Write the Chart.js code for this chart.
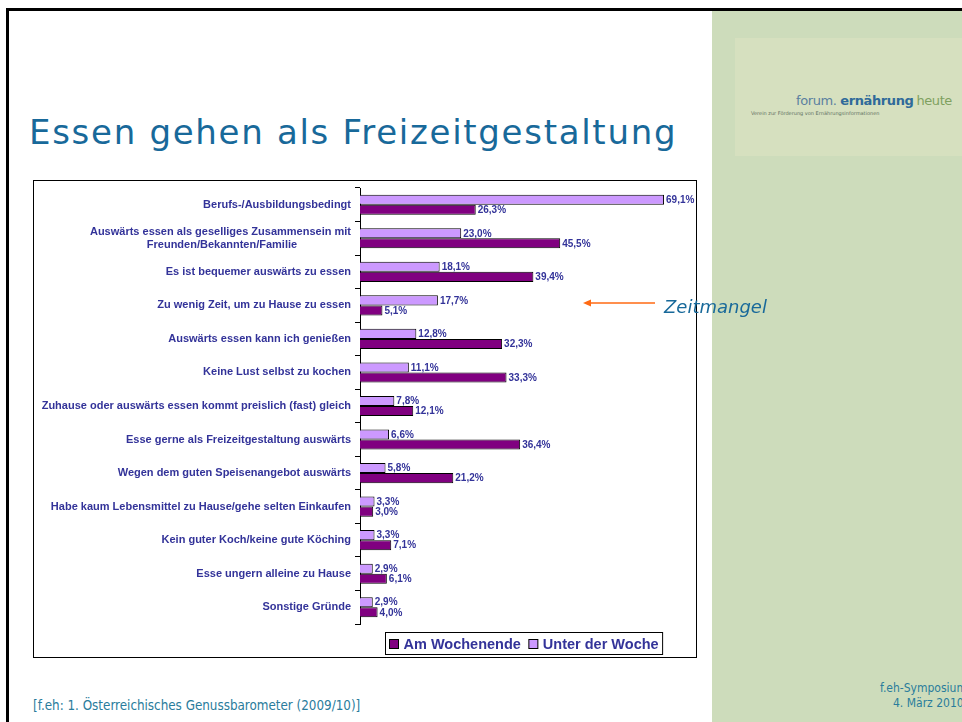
<!DOCTYPE html>
<html>

<head>
  <meta charset="utf-8">
  <title>Essen gehen als Freizeitgestaltung</title>
  <script src="https://cdn.jsdelivr.net/npm/chart.js@4.4.1/dist/chart.umd.min.js"></script>

  <style media="screen">
    body { margin: 0; width: 962px; height: 722px; position: relative; overflow: hidden; background: #fff; font-family: "DejaVu Sans", Verdana, sans-serif; }
    .topline { position: absolute; left: 6px; top: 8px; width: 956px; height: 3px; background: #000; }
    .leftline { position: absolute; left: 6px; top: 8px; width: 3px; height: 714px; background: #000; }
    .side { position: absolute; left: 712px; top: 11px; width: 250px; height: 711px; background: #cddcbb; }
    .logo { position: absolute; left: 735px; top: 38px; width: 227px; height: 118px; background: #d6e0bf; }
    .logo .name { position: absolute; left: 61px; top: 55px; font-size: 13px; white-space: nowrap; letter-spacing: -0.4px; }
    .logo .sub { position: absolute; left: 16px; top: 72px; font-size: 5px; color: #5f705f; white-space: nowrap; }
    h1 { position: absolute; left: 29px; top: 112px; margin: 0; font-weight: normal; font-size: 34px; letter-spacing: 1.7px; color: #18699a; white-space: nowrap; }
    .box { position: absolute; left: 33px; top: 180px; width: 662px; height: 476px; border: 1px solid #000; background: #fff; }
    .note { position: absolute; left: 664px; top: 296px; font-size: 18px; font-style: italic; color: #18699a; white-space: nowrap; }
    .arrow { position: absolute; left: 580px; top: 297px; }
    .foot { position: absolute; font-family: "DejaVu Sans Condensed", "DejaVu Sans", sans-serif; font-size: 13.3px; color: #2a7c9c; white-space: nowrap; }
    .foot.r { font-size: 12px; }
  </style>
</head>

<body>
  <div class="topline"></div>
  <div class="leftline"></div>
  <div class="side"></div>
  <div class="logo">
    <div class="name"><span style="color:#5a7fa0">forum.</span> <b style="color:#2f6a9a">ernährung</b><span style="color:#7fa060; margin-left:3px">heute</span></div>
    <div class="sub">Verein zur Förderung von Ernährungsinformationen</div>
  </div>
  <h1>Essen gehen als Freizeitgestaltung</h1>
  <div class="box">
    <div style="position:relative; width:662px; height:476px;">
      <canvas id="genussChart"></canvas>
    </div>
  </div>
  <svg class="arrow" width="80" height="12">
    <line x1="6" y1="6" x2="75" y2="6" stroke="#ff6a13" stroke-width="1.5" />
    <polygon points="3,6 11,2.5 11,9.5" fill="#ff6a13" />
  </svg>
  <div class="note">Zeitmangel</div>
  <div class="foot" style="left:33px; top:698px;">[f.eh: 1. Österreichisches Genussbarometer (2009/10)]</div>
  <div class="foot r" style="left:880px; top:681px;">f.eh-Symposium</div>
  <div class="foot r" style="left:893px; top:696px;">4. März 2010</div>

  <script>
    const categories = [
      'Berufs-/Ausbildungsbedingt',
      ['Auswärts essen als geselliges Zusammensein mit', 'Freunden/Bekannten/Familie'],
      'Es ist bequemer auswärts zu essen',
      'Zu wenig Zeit, um zu Hause zu essen',
      'Auswärts essen kann ich genießen',
      'Keine Lust selbst zu kochen',
      'Zuhause oder auswärts essen kommt preislich (fast) gleich',
      'Esse gerne als Freizeitgestaltung auswärts',
      'Wegen dem guten Speisenangebot auswärts',
      'Habe kaum Lebensmittel zu Hause/gehe selten Einkaufen',
      'Kein guter Koch/keine gute Köching',
      'Esse ungern alleine zu Hause',
      'Sonstige Gründe'
    ];
    const unterDerWoche = [69.1, 23.0, 18.1, 17.7, 12.8, 11.1, 7.8, 6.6, 5.8, 3.3, 3.3, 2.9, 2.9];
    const amWochenende = [26.3, 45.5, 39.4, 5.1, 32.3, 33.3, 12.1, 36.4, 21.2, 3.0, 7.1, 6.1, 4.0];

    const textColor = '#333399';
    const arial = '"Liberation Sans", Arial, sans-serif';
    const tickFont = 'bold 11px ' + arial;

    // value labels at the end of every bar
    const valueLabels = {
      id: 'valueLabels',
      afterDatasetsDraw(chart) {
        const ctx = chart.ctx;
        ctx.save();
        ctx.font = 'bold 10px ' + arial;
        ctx.fillStyle = textColor;
        ctx.textAlign = 'left';
        ctx.textBaseline = 'middle';
        chart.data.datasets.forEach((ds, i) => {
          chart.getDatasetMeta(i).data.forEach((bar, j) => {
            const txt = ds.data[j].toFixed(1).replace('.', ',') + '%';
            ctx.fillText(txt, bar.x + 2, bar.y + 0.5);
          });
        });
        ctx.restore();
      }
    };

    // framed legend under the plot, "Am Wochenende" first
    const boxLegend = {
      id: 'boxLegend',
      afterDraw(chart) {
        const ctx = chart.ctx;
        const area = chart.chartArea;
        const items = chart.data.datasets.slice().reverse();
        ctx.save();
        ctx.font = 'bold 14.5px ' + arial;
        const sq = 9, gap = 5, pad = 4, between = 8;
        let w = pad * 2;
        items.forEach((ds, i) => {
          w += sq + gap + ctx.measureText(ds.label).width + (i ? between : 0);
        });
        const h = 22;
        const left = Math.round((area.left + area.right) / 2 - w / 2 + 10) + 0.5;
        const top = area.bottom + 8.5;
        ctx.strokeStyle = '#000';
        ctx.lineWidth = 1;
        ctx.strokeRect(left, top, w, h);
        let x = left + pad;
        ctx.textBaseline = 'middle';
        items.forEach((ds, i) => {
          if (i) x += between;
          ctx.fillStyle = ds.backgroundColor;
          ctx.fillRect(x, top + 7, sq, sq);
          ctx.strokeRect(x, top + 7, sq, sq);
          x += sq + gap;
          ctx.fillStyle = textColor;
          ctx.fillText(ds.label, x, top + h / 2 + 1);
          x += ctx.measureText(ds.label).width;
        });
        ctx.restore();
      }
    };

    const ctx = document.getElementById('genussChart').getContext('2d');
    new Chart(ctx, {
      type: 'bar',
      data: {
        labels: categories,
        datasets: [{
          label: 'Unter der Woche',
          data: unterDerWoche,
          backgroundColor: '#cc99ff',
          borderColor: '#000',
          borderWidth: 1
        }, {
          label: 'Am Wochenende',
          data: amWochenende,
          backgroundColor: '#800080',
          borderColor: '#000',
          borderWidth: 1
        }]
      },
      options: {
        indexAxis: 'y',
        responsive: true,
        maintainAspectRatio: false,
        animation: false,
        categoryPercentage: 0.6,
        barPercentage: 1.0,
        layout: { padding: { top: 7, right: 28, bottom: 33, left: 0 } },
        plugins: {
          legend: { display: false },
          tooltip: { enabled: false }
        },
        scales: {
          x: { display: false, min: 0, max: 70 },
          y: {
            afterFit(scale) {
              scale.width = 326;
              scale.paddingTop = 0;
              scale.paddingBottom = 0;
            },
            border: { display: true, color: '#000', width: 1 },
            grid: { offset: true, drawOnChartArea: false, drawTicks: true, tickLength: 5, color: '#000' },
            ticks: {
              padding: 4,
              color: textColor,
              font: { family: arial, size: 11, weight: 'bold', lineHeight: 1.2 },
              // two-line label: second line centred under the first
              // (trailing blanks get trimmed by canvas, so end with a blank braille cell)
              callback(value) {
                const label = this.getLabelForValue(value);
                if (!Array.isArray(label)) return label;
                const c = this.chart.ctx;
                c.save();
                c.font = tickFont;
                const widest = Math.max(...label.map(l => c.measureText(l).width));
                const space = c.measureText('\u00a0').width;
                const stop = c.measureText('\u2800').width;
                const out = label.map(l => {
                  const shift = (widest - c.measureText(l).width) / 2;
                  if (shift < stop) return l;
                  return l + '\u00a0'.repeat(Math.max(0, Math.round((shift - stop) / space))) + '\u2800';
                });
                c.restore();
                return out;
              }
            }
          }
        }
      },
      plugins: [valueLabels, boxLegend]
    });
  </script>
</body>

</html>
